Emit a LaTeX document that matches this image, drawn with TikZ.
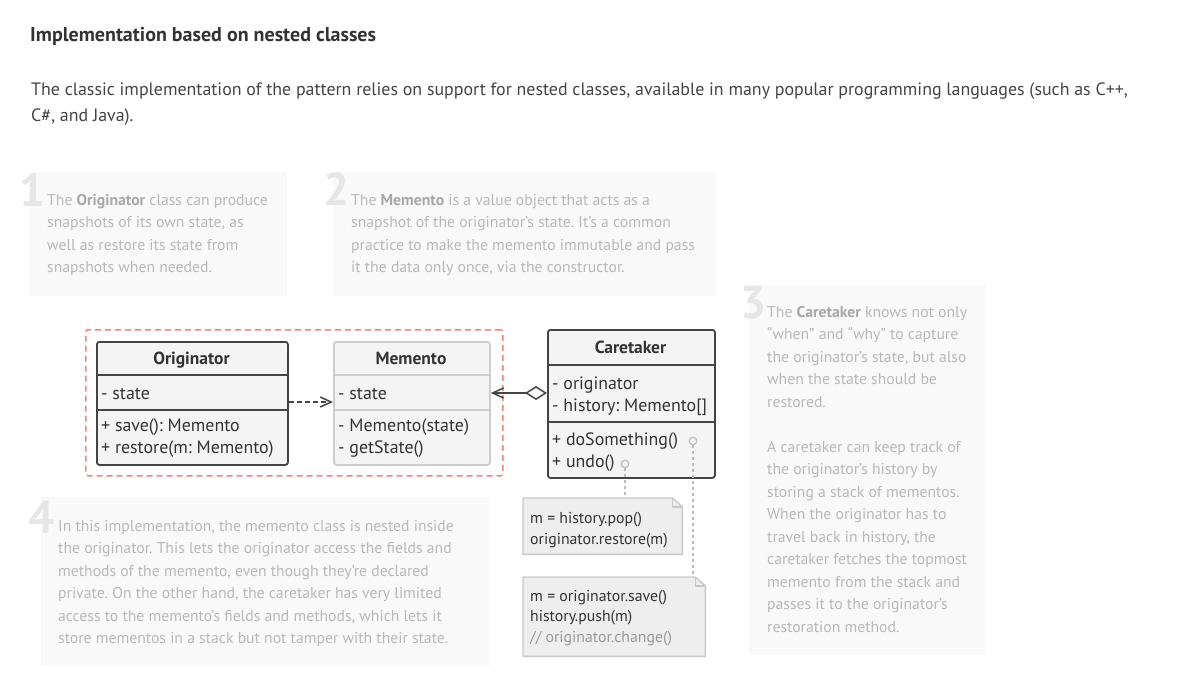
\documentclass[tikz,border=0pt]{standalone}
\usepackage{fontspec}
\setmainfont{PT Sans}
\usetikzlibrary{arrows.meta,calc}
\frenchspacing
\definecolor{annbg}{HTML}{F9F9F9}
\definecolor{anntx}{HTML}{B8B8B8}
\definecolor{anntxb}{HTML}{A8A8A8}
\definecolor{anndig}{HTML}{E6E6E6}
\definecolor{darkbd}{HTML}{444444}
\definecolor{txt}{HTML}{333333}
\definecolor{bodytx}{HTML}{444444}
\definecolor{clsfill}{HTML}{F4F4F4}
\definecolor{litebd}{HTML}{CCCCCC}
\definecolor{redd}{HTML}{F88373}
\definecolor{notefill}{HTML}{EEEEEE}
\definecolor{notebdc}{HTML}{C8C8C8}
\definecolor{dotc}{HTML}{BBBBBB}
\definecolor{commc}{HTML}{999999}
\newcommand{\ab}[1]{\textcolor{anntxb}{\textbf{#1}}}
\begin{document}
\begin{tikzpicture}[x=1pt,y=-1pt,
  annbox/.style={fill=annbg, draw=none, inner sep=0, anchor=north west},
  anntext/.style={inner sep=0, anchor=base west, text=anntx, font=\fontsize{15.7}{22.5}\selectfont},
  digit/.style={inner sep=0, anchor=base west, text=anndig, font=\fontsize{46}{46}\selectfont\bfseries},
  clsbox/.style={draw=darkbd, fill=clsfill, line width=1.8, rounded corners=2.5, inner sep=0, anchor=north west},
  clsboxlite/.style={clsbox, draw=litebd},
  clstitle/.style={inner sep=0, anchor=base, text=txt, font=\fontsize{17.5}{17.5}\selectfont\bfseries},
  clstext/.style={inner sep=0, anchor=base west, text=txt, font=\fontsize{17.9}{22.5}\selectfont},
  notetext/.style={inner sep=0, anchor=base west, text=txt, font=\fontsize{15.8}{20.5}\selectfont},
  notebox/.style={inner sep=0, anchor=north west},
  notebd/.style={draw=notebdc, line width=1.4, fill=notefill, line join=round},
  dep/.style={draw=darkbd, line width=1.5, dash pattern=on 5pt off 3pt, -{Straight Barb[length=11pt,width=10pt]}},
  agg/.style={draw=darkbd, line width=1.5, {Diamond[open,length=22pt,width=14pt]}-{Straight Barb[length=11pt,width=10pt]}},
  circ/.style={circle, draw=dotc, line width=1.2, fill=clsfill, minimum size=7.5, inner sep=0},
  dotln/.style={draw=dotc, line width=1.3, dash pattern=on 3pt off 3pt}
]
\useasboundingbox (0,0) rectangle (1181,696);
\fill[white] (0,0) rectangle (1181,696);

% title and intro
\node[inner sep=0, anchor=base west, text=txt, font=\fontsize{20}{20}\selectfont\bfseries] (title) at (30,41) {Implementation based on nested classes};
\node[inner sep=0, anchor=base west, text=bodytx, font=\fontsize{17.9}{26}\selectfont] (intro) at (31,95) {\parbox[t]{1150pt}{The classic implementation of the pattern relies on support for nested classes, available in many popular programming languages (such as C++,\\C\#, and Java).}};

% annotation boxes
\node[annbox, minimum width=258, minimum height=124] (b1) at (29,172) {};
\node[annbox, minimum width=383, minimum height=124] (b2) at (333,172) {};
\node[annbox, minimum width=237, minimum height=370] (b3) at (749,285) {};
\node[annbox, minimum width=449, minimum height=169] (b4) at (41,497) {};

\node[digit] (d1) at (19,206) {1};
\node[digit] (d2) at (323,205) {2};
\node[digit] (d3) at (740,318) {3};
\node[digit] (d4) at (28,533) {4};

\node[anntext] (t1) at (47,205) {\parbox[t]{400pt}{The \ab{Originator} class can produce\\snapshots of its own state, as\\well as restore its state from\\snapshots when needed.}};
\node[anntext] (t2) at (351,205) {\parbox[t]{400pt}{The \ab{Memento} is a value object that acts as a\\snapshot of the originator’s state. It’s a common\\practice to make the memento immutable and pass\\it the data only once, via the constructor.}};
\node[anntext] (t3) at (767,317) {\parbox[t]{400pt}{The \ab{Caretaker} knows not only\\“when” and “why” to capture\\the originator’s state, but also\\when the state should be\\restored.\\[22.5pt]A caretaker can keep track of\\the originator’s history by\\storing a stack of mementos.\\When the originator has to\\travel back in history, the\\caretaker fetches the topmost\\memento from the stack and\\passes it to the originator’s\\restoration method.}};
\node[anntext] (t4) at (58,531) {\parbox[t]{500pt}{In this implementation, the memento class is nested inside\\the originator. This lets the originator access the fields and\\methods of the memento, even though they’re declared\\private. On the other hand, the caretaker has very limited\\access to the memento’s fields and methods, which lets it\\store mementos in a stack but not tamper with their state.}};

% nesting frame
\node[draw=redd, dash pattern=on 6pt off 4pt, line width=1.5, rounded corners=2, minimum width=417, minimum height=146, inner sep=0, anchor=north west] (nest) at (85,329) {};

% Originator
\node[clsbox, minimum width=191, minimum height=123] (orig) at (96,341) {};
\draw[draw=darkbd, line width=1.8] (orig.west |- 0,375) -- (orig.east |- 0,375);
\draw[draw=darkbd, line width=1.8] (orig.west |- 0,410) -- (orig.east |- 0,410);
\node[clstitle] (origT) at (191.5,364) {Originator};
\node[clstext] (origF) at (101,399) {- state};
\node[clstext] (origM) at (101,431) {\parbox[t]{300pt}{+ save(): Memento\\+ restore(m: Memento)}};

% Memento
\node[clsboxlite, minimum width=156, minimum height=123] (mem) at (333,341) {};
\draw[draw=litebd, line width=1.8] (mem.west |- 0,375) -- (mem.east |- 0,375);
\draw[draw=litebd, line width=1.8] (mem.west |- 0,410) -- (mem.east |- 0,410);
\node[clstitle] (memT) at (411,364) {Memento};
\node[clstext] (memF) at (338,399) {- state};
\node[clstext] (memM) at (338,431) {\parbox[t]{300pt}{- Memento(state)\\- getState()}};

% Caretaker
\node[clsbox, minimum width=167, minimum height=148] (care) at (547,329) {};
\draw[draw=darkbd, line width=1.8] (care.west |- 0,365) -- (care.east |- 0,365);
\draw[draw=darkbd, line width=1.8] (care.west |- 0,422) -- (care.east |- 0,422);
\node[clstitle] (careT) at (630.5,353) {Caretaker};
\node[clstext] (careF) at (552,389) {\parbox[t]{300pt}{- originator\\- history: Memento[]}};
\node[clstext] (careM) at (552,445) {\parbox[t]{300pt}{+ doSomething()\\+ undo()}};

% connectors between classes
\coordinate (depy) at (0,402);
\coordinate (aggy) at (0,393);
\draw[dep] (orig.east |- depy) -- (mem.west |- depy);
\draw[agg] (care.west |- aggy) -- (mem.east |- aggy);

% notes
\node[notebox, minimum width=159, minimum height=56] (n1) at (523,498) {};
\draw[notebd] (n1.north west) -- ($(n1.north east)+(-10,0)$) -- ($(n1.north east)+(0,9)$) -- (n1.south east) -- (n1.south west) -- cycle;
\draw[draw=notebdc, line width=1.2, line join=round] ($(n1.north east)+(-10,0)$) -- ($(n1.north east)+(-10,9)$) -- ($(n1.north east)+(0,9)$);
\node[notetext] (n1t) at (530,523.5) {\parbox[t]{200pt}{m = history.pop()\\originator.restore(m)}};

\node[notebox, minimum width=182, minimum height=79] (n2) at (523,577) {};
\draw[notebd] (n2.north west) -- ($(n2.north east)+(-10,0)$) -- ($(n2.north east)+(0,9)$) -- (n2.south east) -- (n2.south west) -- cycle;
\draw[draw=notebdc, line width=1.2, line join=round] ($(n2.north east)+(-10,0)$) -- ($(n2.north east)+(-10,9)$) -- ($(n2.north east)+(0,9)$);
\node[notetext] (n2t) at (530,601) {\parbox[t]{200pt}{m = originator.save()\\history.push(m)\\\textcolor{commc}{// originator.change()}}};

% method markers and links to notes
\node[circ] (c1) at (693,441) {};
\node[circ] (c2) at (625,464) {};
\draw[dotln] (c1.south) -- (c1.south |- n2.north);
\draw[dotln] (c2.south) -- (c2.south |- n1.north);
\end{tikzpicture}
\end{document}
